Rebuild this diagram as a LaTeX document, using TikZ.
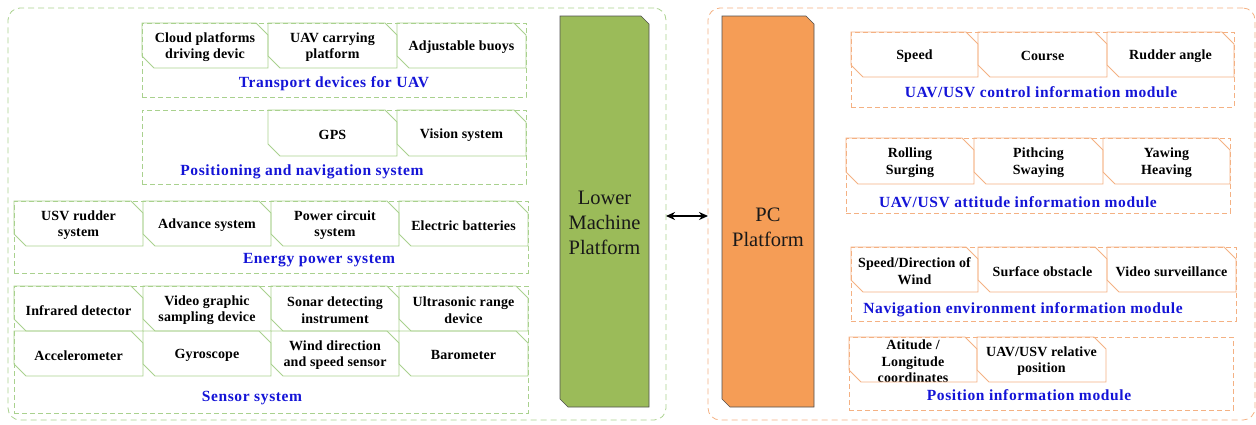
\documentclass[tikz,border=0pt]{standalone}
\usepackage{fontspec}
\setmainfont{Liberation Serif}
\newfontfamily\boxfont[LetterSpace=1]{Liberation Serif}
\newfontfamily\labfont[LetterSpace=4]{Liberation Serif}
\usetikzlibrary{arrows.meta}
\definecolor{lgreen}{RGB}{169,209,142}
\definecolor{lorange}{RGB}{244,177,131}
\definecolor{colgreen}{RGB}{155,187,89}
\definecolor{colorange}{RGB}{245,157,86}
\definecolor{labblue}{RGB}{20,20,215}
\definecolor{colborder}{RGB}{80,80,80}
\tikzset{
  boxtxt/.style={align=center,inner sep=0pt,outer sep=0pt,font=\boxfont\fontsize{14}{16.5}\selectfont\bfseries,text=black},
  grpbox/.style={draw,dash pattern=on 5pt off 3pt,line width=0.8pt,inner sep=0pt,outer sep=0pt},
  outerbox/.style={draw,dash pattern=on 6pt off 4pt,line width=0.8pt,rounded corners=12pt,inner sep=0pt,outer sep=0pt},
  grplab/.style={font=\labfont\fontsize{15.5}{18}\selectfont\bfseries,text=labblue,inner sep=0pt},
  coltxt/.style={align=center,font=\fontsize{20.5}{25}\selectfont,text=black!90,inner sep=0pt},
  colbox/.style={inner sep=0pt,outer sep=0pt},
  snipline/.style={draw,line width=0.8pt},
}
% #1 colour, #2 name, #3 x1, #4 y1, #5 x2, #6 y2, #7 text  (text sits 1.8pt lower than box centre)
\newcommand\snipnode[7]{%
  \node[boxtxt,minimum width={(#5-#3)*1pt},minimum height={(#6-#4)*1pt}] (#2) at ({(#3+#5)/2},{(#4+#6)/2+1.8}) {#7};
  \path[snipline,draw=#1] ([yshift=1.8pt]#2.north west) -- ([xshift=-12pt,yshift=1.8pt]#2.north east) -- ([yshift=-10.2pt]#2.north east)
     -- ([yshift=1.8pt]#2.south east) -- ([xshift=12pt,yshift=1.8pt]#2.south west) -- ([yshift=13.8pt]#2.south west) -- cycle;}
% #1 colour, #2 name, #3 x1, #4 y1, #5 x2, #6 y2
\newcommand\grpnode[6]{%
  \node[grpbox,draw=#1,minimum width={(#5-#3)*1pt},minimum height={(#6-#4)*1pt}] (#2) at ({(#3+#5)/2},{(#4+#6)/2}) {};}
% #1 options, #2 node name, #3 cut
\newcommand\snipfill[3]{%
  \path[#1] (#2.north west) -- ([xshift=-#3pt]#2.north east) -- ([yshift=-#3pt]#2.north east)
     -- (#2.south east) -- ([xshift=#3pt]#2.south west) -- ([yshift=#3pt]#2.south west) -- cycle;}
\begin{document}
\begin{tikzpicture}[x=1pt,y=-1pt]
\useasboundingbox (0,0) rectangle (1256,424);

% outer frames
\node[outerbox,draw=lgreen,minimum width=658pt,minimum height=412pt] (lo) at (337,214) {};
\node[outerbox,draw=lorange,minimum width=547pt,minimum height=412pt] (ro) at (981.5,214) {};

% columns
\node[colbox,minimum width=89pt,minimum height=391pt] (low) at (604.5,211.5) {};
\node[colbox,minimum width=92pt,minimum height=391pt] (pc) at (768,211.5) {};
\snipfill{fill=colgreen,draw=colborder,line width=0.7pt}{low}{8}
\snipfill{fill=colorange,draw=colborder,line width=0.7pt}{pc}{8}
\node[coltxt] (lowt) at (604.5,223) {Lower\\Machine\\Platform};
\node[coltxt] (pct) at (768,227) {PC\\Platform};

% connector
\draw[{Stealth[length=9pt,width=8pt]}-{Stealth[length=9pt,width=8pt]},line width=1.6pt] (lo.east |- 0,216) -- (ro.west |- 0,216);

% ---------- left groups ----------
\grpnode{lgreen}{gT}{142}{23}{526}{97}
\snipnode{lgreen}{t1}{142}{23}{268}{68}{Cloud platforms\\driving devic}
\snipnode{lgreen}{t2}{268}{23}{397}{68}{UAV carrying\\platform}
\snipnode{lgreen}{t3}{397}{23}{526}{68}{Adjustable buoys}
\node[grplab] (lT) at (334,83.5) {Transport devices for UAV};

\grpnode{lgreen}{gP}{142}{110}{526}{184}
\snipnode{lgreen}{p1}{268}{110}{397}{156}{GPS}
\snipnode{lgreen}{p2}{397}{110}{526}{156}{Vision system}
\node[grplab] (lP) at (302,171.5) {Positioning and navigation system};

\grpnode{lgreen}{gE}{14}{201}{528}{273}
\snipnode{lgreen}{e1}{14}{201}{143}{246}{USV rudder\\system}
\snipnode{lgreen}{e2}{143}{201}{271}{246}{Advance system}
\snipnode{lgreen}{e3}{271}{201}{399}{246}{Power circuit\\system}
\snipnode{lgreen}{e4}{399}{201}{528}{246}{Electric batteries}
\node[grplab] (lE) at (319,260.5) {Energy power system};

\grpnode{lgreen}{gS}{14}{286}{528}{413}
\snipnode{lgreen}{s1}{14}{286}{143}{331}{Infrared detector}
\snipnode{lgreen}{s2}{143}{286}{271}{331}{Video graphic\\sampling device}
\snipnode{lgreen}{s3}{271}{286}{399}{331}{Sonar detecting\\instrument}
\snipnode{lgreen}{s4}{399}{286}{528}{331}{Ultrasonic range\\device}
\snipnode{lgreen}{s5}{14}{331}{143}{376}{Accelerometer}
\snipnode{lgreen}{s6}{143}{331}{271}{376}{Gyroscope}
\snipnode{lgreen}{s7}{271}{331}{399}{376}{Wind direction\\and speed sensor}
\snipnode{lgreen}{s8}{399}{331}{528}{376}{Barometer}
\node[grplab] (lS) at (252,398.5) {Sensor system};

% ---------- right groups ----------
\grpnode{lorange}{gC}{851}{32}{1234}{107}
\snipnode{lorange}{c1}{851}{32}{978}{77}{Speed}
\snipnode{lorange}{c2}{978}{32}{1107}{77}{Course}
\snipnode{lorange}{c3}{1107}{32}{1234}{77}{Rudder angle}
\node[grplab] (lC) at (1041,92.5) {UAV/USV control information module};

\grpnode{lorange}{gA}{846}{138}{1230}{213}
\snipnode{lorange}{a1}{846}{138}{974}{184}{Rolling\\Surging}
\snipnode{lorange}{a2}{974}{138}{1103}{184}{Pithcing\\Swaying}
\snipnode{lorange}{a3}{1103}{138}{1230}{184}{Yawing\\Heaving}
\node[grplab] (lA) at (1018,202.5) {UAV/USV attitude information module};

\grpnode{lorange}{gN}{851}{247}{1236}{321}
\snipnode{lorange}{n1}{851}{247}{978}{292}{Speed/Direction of\\Wind}
\snipnode{lorange}{n2}{978}{247}{1107}{292}{Surface obstacle}
\snipnode{lorange}{n3}{1107}{247}{1236}{292}{Video surveillance}
\node[grplab] (lN) at (1023,309.5) {Navigation environment information module};

\grpnode{lorange}{gPo}{849}{337}{1233}{410}
\snipnode{lorange}{o1}{849}{337}{977}{382}{Atitude /\\Longitude\\coordinates}
\snipnode{lorange}{o2}{977}{337}{1106}{382}{UAV/USV relative\\position}
\node[grplab] (lPo) at (1029,395.5) {Position information module};
\end{tikzpicture}
\end{document}
